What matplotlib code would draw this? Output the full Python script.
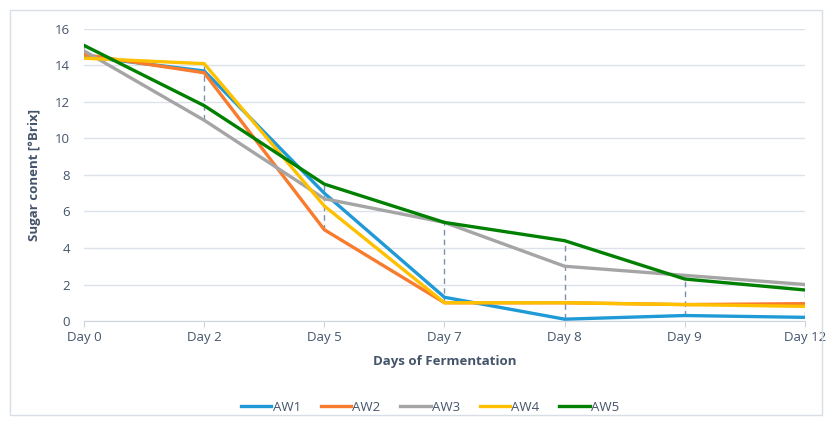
import numpy as np
import matplotlib.pyplot as plt
from matplotlib.patches import Rectangle

# 发酵天数与各样品糖度
days = ['Day 0', 'Day 2', 'Day 5', 'Day 7', 'Day 8', 'Day 9', 'Day 12']
aw1 = [14.5, 13.7, 7.0, 1.3, 0.1, 0.3, 0.2]
aw2 = [14.6, 13.6, 5.0, 1.0, 1.0, 0.9, 0.95]
aw3 = [14.8, 11.0, 6.7, 5.4, 3.0, 2.5, 2.0]
aw4 = [14.4, 14.1, 6.3, 1.0, 1.0, 0.9, 0.8]
aw5 = [15.1, 11.8, 7.5, 5.4, 4.4, 2.3, 1.7]
names = ['AW1', 'AW2', 'AW3', 'AW4', 'AW5']
colors = ['#1f9ad6', '#f97b2d', '#a5a5a5', '#ffc000', '#008000']

plt.rcParams['font.family'] = ['Open Sans', 'DejaVu Sans']
plt.rcParams['font.size'] = 9.5
txt = '#44546a'

fig = plt.figure(figsize=(8.32, 4.25), dpi=100)
ax = fig.add_axes([0.101, 0.2447, 0.8665, 0.6871])

# 外边框
fig.patches.append(Rectangle((0.012, 0.024), 0.976, 0.952, transform=fig.transFigure,
                             fill=False, edgecolor='#d9dee6', linewidth=1))

x = np.arange(len(days))
series = [aw1, aw2, aw3, aw4, aw5]
data = np.array(series)

# 高低点连线
ax.vlines(x, data.min(axis=0), data.max(axis=0), colors='#7a90ad',
          linestyles=(0, (4, 3)), linewidth=1, zorder=2)

for s, n, c in zip(series, names, colors):
    ax.plot(x, s, color=c, linewidth=2.4, label=n, zorder=3, solid_joinstyle='miter')

ax.set_xlim(0, len(days) - 1)
ax.set_ylim(0, 16)
ax.set_yticks(range(0, 17, 2))
ax.set_xticks(x)
ax.set_xticklabels(days)
ax.grid(axis='y', color='#dde2ea', linewidth=1)
ax.set_axisbelow(True)
for sp in ['top', 'right', 'left']:
    ax.spines[sp].set_visible(False)
ax.spines['bottom'].set_color('#d0d5dd')
ax.tick_params(axis='y', length=0, colors=txt, labelsize=9.5, pad=10)
ax.tick_params(axis='x', length=4, color='#d0d5dd', colors=txt, labelsize=9.5, pad=3)

ax.set_xlabel('Days of Fermentation', color=txt, fontweight='bold', fontsize=9.5, labelpad=8)
ax.set_ylabel('Sugar conent [°Brix]', color=txt, fontweight='bold', fontsize=9.5, labelpad=10)

fig.legend(loc='center', bbox_to_anchor=(0.517, 0.042), ncol=5, frameon=False,
           handlelength=2.3, handletextpad=0.1, columnspacing=1.5,
           labelcolor=txt, fontsize=9.5)

plt.savefig('out.png', dpi=100)
